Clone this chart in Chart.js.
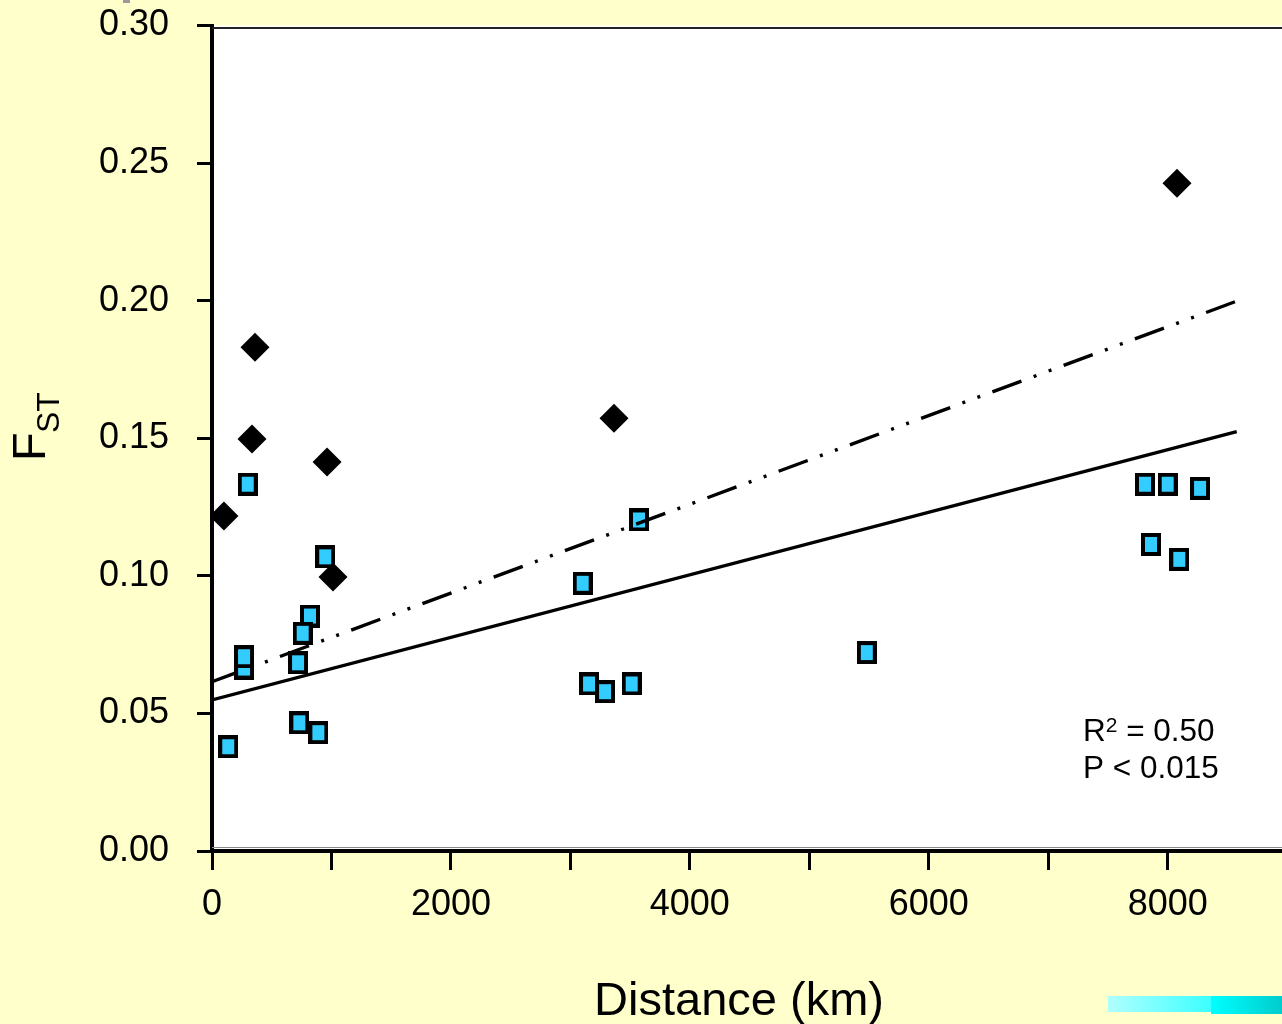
<!DOCTYPE html>
<html>
<head>
<meta charset="utf-8">
<script src="https://cdn.jsdelivr.net/npm/chart.js@4.4.1/dist/chart.umd.min.js"></script>
<style>
  html, body { margin: 0; padding: 0; background: #FFFFCC; }
  #c { display: block; }
</style>
</head>
<body>
<canvas id="c" width="1282" height="1024"></canvas>
<script>
// ---- data ----
const squareX = [136, 268, 268, 299, 720, 731, 820, 759, 890, 948, 3103, 3156, 3290, 3513, 3574, 5481, 7810, 7860, 8000, 8097, 8271];
const squareY = [0.0379, 0.0665, 0.0706, 0.1333, 0.0684, 0.0466, 0.0854, 0.0791, 0.0430, 0.1069, 0.0973, 0.0607, 0.0579, 0.0607, 0.1203, 0.0721, 0.1333, 0.1114, 0.1333, 0.1060, 0.1318];
const diamondX = [100, 335, 360, 963, 1013, 3365, 8078];
const diamondY = [0.1217, 0.1497, 0.1831, 0.1414, 0.0996, 0.1573, 0.2427];
const solidLineX = [0, 8578];
const solidLineY = [0.0549, 0.1524];
const dashLineX = [0, 8563];
const dashLineY = [0.0615, 0.1996];
const xTickValues = [0, 1000, 2000, 3000, 4000, 5000, 6000, 7000, 8000];
const xTickLabels = ['0', '', '2000', '', '4000', '', '6000', '', '8000'];
const yTickValues = [0, 0.05, 0.10, 0.15, 0.20, 0.25, 0.30];
const yTickLabels = ['0.00', '0.05', '0.10', '0.15', '0.20', '0.25', '0.30'];
const xTitle = 'Distance (km)';
const yTitleMain = 'F';
const yTitleSub = 'ST';
const statLine1 = ['R', '2', ' = 0.50'];
const statLine2 = 'P < 0.015';

const FAM = '"Liberation Sans", Arial, Helvetica, sans-serif';
const pts = (xs, ys) => xs.map((x, i) => ({ x: x, y: ys[i] }));

// square marker (slightly taller than wide, as in the reference)
const sq = document.createElement('canvas');
sq.width = 20; sq.height = 23;
(function () {
  const g = sq.getContext('2d');
  g.fillStyle = '#000';
  g.fillRect(0, 0, 20, 23);
  g.fillStyle = '#33CCFF';
  g.fillRect(4, 4, 12, 15);
})();

const decor = {
  id: 'decor',
  beforeDraw(chart) {
    const ctx = chart.ctx, a = chart.chartArea;
    ctx.save();
    ctx.fillStyle = '#FFFFCC';
    ctx.fillRect(0, 0, chart.width, chart.height);
    ctx.fillStyle = '#FFFFFF';
    ctx.fillRect(a.left, a.top, a.right - a.left, a.bottom - a.top);
    ctx.restore();
  },
  afterDraw(chart) {
    const ctx = chart.ctx, a = chart.chartArea;
    ctx.save();
    // top frame line
    ctx.fillStyle = '#222';
    ctx.fillRect(a.left, 27, a.right - a.left, 2);
    // grey line above x axis
    ctx.fillStyle = '#8a8a8a';
    ctx.fillRect(a.left, 847, a.right - a.left, 1);
    // small grey mark at top
    ctx.fillStyle = '#999';
    ctx.fillRect(123, 0, 7, 3);
    // cyan bars bottom right
    let gr = ctx.createLinearGradient(1108, 0, 1211, 0);
    gr.addColorStop(0, '#B0FFFF');
    gr.addColorStop(1, '#3CFFFF');
    ctx.fillStyle = gr;
    ctx.fillRect(1108, 996, 103, 16);
    gr = ctx.createLinearGradient(1211, 0, 1282, 0);
    gr.addColorStop(0, '#00FFFF');
    gr.addColorStop(1, '#00CCCC');
    ctx.fillStyle = gr;
    ctx.fillRect(1211, 996, 71, 18);

    ctx.fillStyle = '#000';
    ctx.textBaseline = 'alphabetic';
    // x title
    ctx.font = '47px ' + FAM;
    ctx.textAlign = 'center';
    ctx.fillText(xTitle, 739, 1015);
    // y title, rotated
    ctx.save();
    ctx.translate(0, 460);
    ctx.rotate(-Math.PI / 2);
    ctx.textAlign = 'left';
    ctx.font = '47px ' + FAM;
    ctx.fillText(yTitleMain, -1, 45);
    ctx.font = '32px ' + FAM;
    ctx.fillText(yTitleSub, 27, 59);
    ctx.restore();
    // stats
    ctx.textAlign = 'left';
    ctx.font = '31.5px ' + FAM;
    ctx.fillText(statLine1[0], 1083, 741);
    let w = ctx.measureText(statLine1[0]).width;
    ctx.font = '21px ' + FAM;
    ctx.fillText(statLine1[1], 1083 + w, 732);
    let w2 = ctx.measureText(statLine1[1]).width;
    ctx.font = '31.5px ' + FAM;
    ctx.fillText(statLine1[2], 1083 + w + w2, 741);
    ctx.fillText(statLine2, 1083, 778);
    ctx.restore();
  }
};

function zeroPad(s) { s.paddingTop = 0; s.paddingBottom = 0; s.paddingLeft = 0; s.paddingRight = 0; }

new Chart(document.getElementById('c'), {
  type: 'scatter',
  data: {
    datasets: [
      {
        type: 'line', data: pts(solidLineX, solidLineY), order: 0,
        borderColor: '#000', borderWidth: 3.4, pointRadius: 0, fill: false, tension: 0
      },
      {
        type: 'line', data: pts(dashLineX, dashLineY), order: 0,
        borderColor: '#000', borderWidth: 3.4, pointRadius: 0, fill: false, tension: 0,
        borderDash: [31, 13, 3, 13, 3, 13], borderDashOffset: 3.5, borderCapStyle: 'butt'
      },
      {
        data: pts(diamondX, diamondY), order: 1,
        pointStyle: 'rectRot', pointRadius: 14.5, pointHoverRadius: 14.5,
        backgroundColor: '#000', borderColor: '#000', borderWidth: 0
      },
      {
        data: pts(squareX, squareY), order: 2,
        pointStyle: sq, pointRadius: 10, pointHoverRadius: 10,
        backgroundColor: '#33CCFF', borderColor: '#000', borderWidth: 0
      }
    ]
  },
  options: {
    responsive: false, animation: false, devicePixelRatio: 1,
    layout: { autoPadding: false, padding: { top: 25.5, right: 0, left: 0, bottom: 0 } },
    plugins: { legend: { display: false }, tooltip: { enabled: false } },
    events: [],
    scales: {
      x: {
        type: 'linear', min: 0, max: 8957,
        afterBuildTicks(s) { s.ticks = xTickValues.map(v => ({ value: v })); },
        afterFit(s) { s.height = 173; zeroPad(s); },
        ticks: {
          autoSkip: false, maxRotation: 0, minRotation: 0,
          color: '#000', font: { size: 36, family: FAM }, padding: 13,
          callback: (v, i) => xTickLabels[i]
        },
        grid: { drawOnChartArea: false, drawTicks: true, tickLength: 19, tickWidth: 3, tickColor: '#000' },
        border: { display: true, width: 4, color: '#000' }
      },
      y: {
        type: 'linear', min: 0, max: 0.30,
        afterBuildTicks(s) { s.ticks = yTickValues.map(v => ({ value: v })); },
        afterFit(s) { s.width = 212; zeroPad(s); },
        ticks: {
          autoSkip: false, color: '#000', font: { size: 36, family: FAM }, padding: 28,
          callback: (v, i) => yTickLabels[i]
        },
        grid: { drawOnChartArea: false, drawTicks: true, tickLength: 15, tickWidth: 3, tickColor: '#000' },
        border: { display: true, width: 4, color: '#000' }
      }
    }
  },
  plugins: [decor]
});
</script>
</body>
</html>
